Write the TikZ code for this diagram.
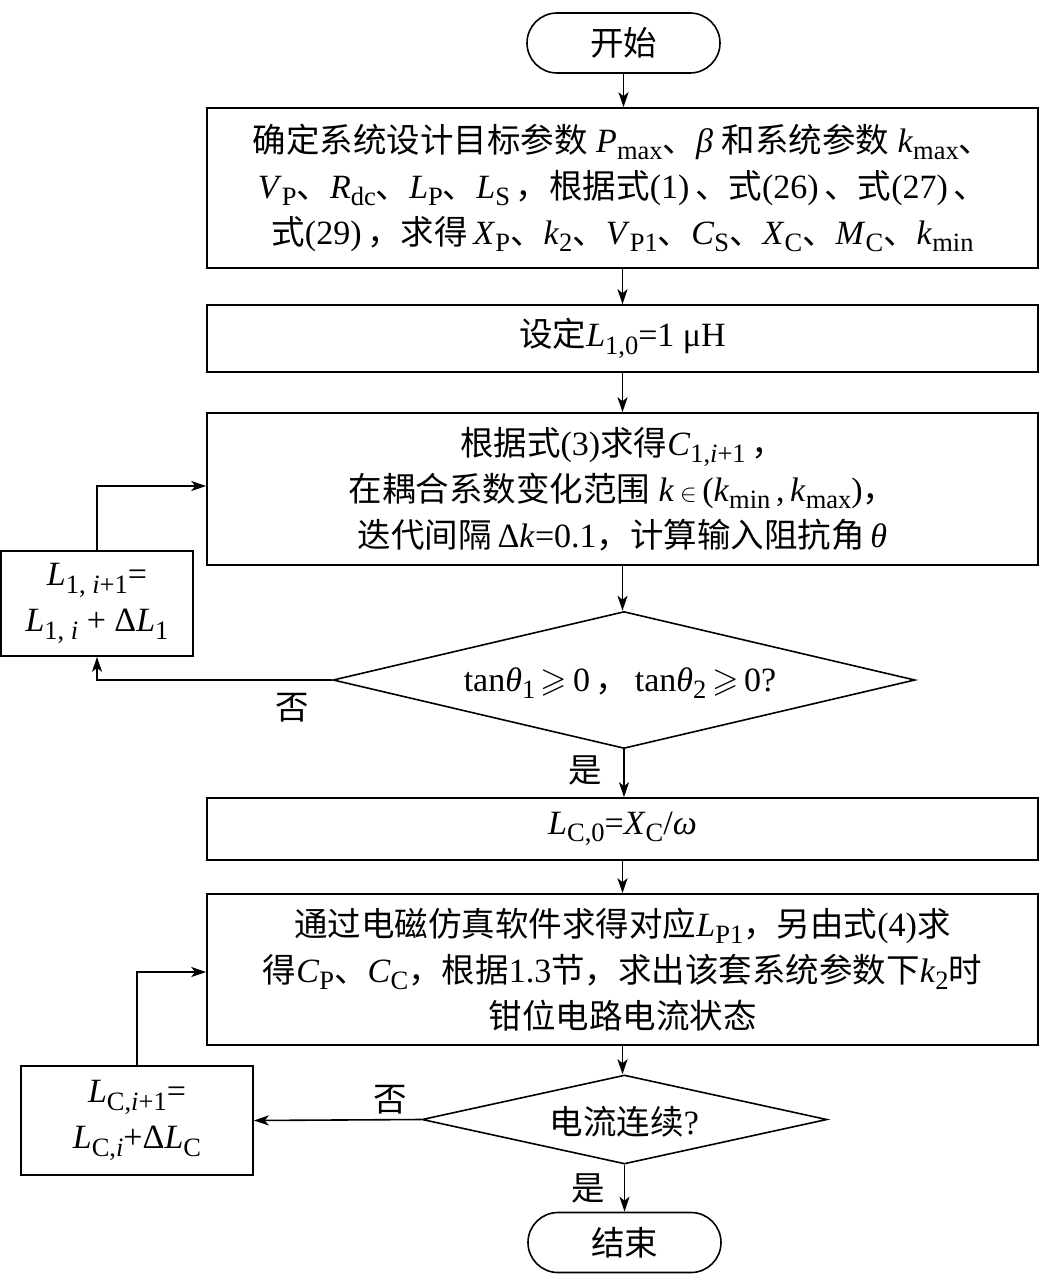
\documentclass[tikz,border=0pt]{standalone}
\usepackage{amssymb}
\usepackage{fontspec}
\setmainfont{Liberation Serif}
\newfontfamily\cjk{Noto Sans CJK SC}
\usetikzlibrary{arrows.meta,shapes.geometric}
\newcommand\zh[1]{{\cjk\fontsize{33.5}{46}\selectfont #1}}
\newcommand\sub[1]{\raisebox{-0.22em}{\fontsize{26.5}{26.5}\selectfont #1}}
\newcommand\vv[2]{\textit{#1}\sub{#2}}
\begin{document}
\begin{tikzpicture}[x=1pt,y=-1pt,
  every node/.style={font=\fontsize{34}{46}\selectfont, inner sep=0pt},
  proc/.style={draw, line width=1.6pt, minimum width=831pt, align=center},
  side/.style={draw, line width=1.6pt, align=center},
  term/.style={draw, line width=1.6pt, rounded corners=30pt, minimum width=193pt, minimum height=60pt},
  dec/.style={draw, line width=1.6pt, diamond, aspect=4.2, inner sep=0pt},
  arr/.style={line width=1.6pt, -{Stealth[length=15pt,width=10pt,inset=4pt]}},
  lbl/.style={font=\fontsize{31}{35}\selectfont}]
\useasboundingbox (0,0) rectangle (1041,1276);
\node[term] (start) at (623.5,43) {\zh{开始}};
\node[proc, minimum height=160pt] (b1) at (622.5,188) {%
\zh{确定系统设计目标参数} \vv{P}{max}\zh{、}\textit{β} \zh{和系统参数} \vv{k}{max}\zh{、}\\
\vv{V}{P}\zh{、}\vv{R}{dc}\zh{、}\vv{L}{P}\zh{、}\vv{L}{S}\,\zh{，根据式}(1)\,\zh{、式}(26)\,\zh{、式}(27)\,\zh{、}\\
\zh{式}(29)\,\zh{，求得}\,\vv{X}{P}\zh{、}\vv{k}{2}\zh{、}\vv{V}{P1}\zh{、}\vv{C}{S}\zh{、}\vv{X}{C}\zh{、}\vv{M}{C}\zh{、}\vv{k}{min}};
\node[proc, minimum height=67pt] (b2) at (622.5,338.5) {\zh{设定}\vv{L}{1,0}=1 μH};
\node[proc, minimum height=152pt] (b3) at (622.5,489) {%
\zh{根据式}(3)\zh{求得}\vv{C}{1,\textit{i}+1}\,\zh{，}\\
\zh{在耦合系数变化范围} \textit{k}\,$\in$\,(\vv{k}{min}\,,\,\vv{k}{max})\zh{，}\\
\zh{迭代间隔}\,Δ\textit{k}=0.1\zh{，计算输入阻抗角}\,\textit{θ}};
\node[dec, minimum width=582pt, minimum height=137pt] (d1) at (624,680) {};
\node at (620,683) {tan\textit{θ}\sub{1}\,$\geqslant$\,0\,\zh{，}\,tan\textit{θ}\sub{2}\,$\geqslant$\,0?};
\node[side, minimum width=192pt, minimum height=105pt] (s1) at (97,603.5) {%
\vv{L}{1, \textit{i}+1}=\\ \vv{L}{1, \textit{i}} + Δ\vv{L}{1}};
\node[proc, minimum height=62pt] (b4) at (622.5,829) {\vv{L}{C,0}=\vv{X}{C}/\textit{ω}};
\node[proc, minimum height=151pt] (b5) at (622.5,969.5) {%
\zh{通过电磁仿真软件求得对应}\vv{L}{P1}\zh{，另由式}(4)\zh{求}\\
\zh{得}\vv{C}{P}\zh{、}\vv{C}{C}\zh{，根据}1.3\zh{节，求出该套系统参数下}\vv{k}{2}\zh{时}\\
\zh{钳位电路电流状态}};
\node[dec, minimum width=405pt, minimum height=89pt] (d2) at (624.5,1119.5) {};
\node at (624.5,1122) {\zh{电流连续}?};
\node[side, minimum width=232pt, minimum height=109pt] (s2) at (137,1120.5) {%
\vv{L}{C,\textit{i}+1}=\\ \vv{L}{C,\textit{i}}+Δ\vv{L}{C}};
\node[term] (end) at (624.5,1242.5) {\zh{结束}};
\coordinate (c1) at (97,486);
\coordinate (c2) at (137,972);
\draw[arr] (start) -- (start |- b1.north);
\draw[arr] (b1.south) -- (b2.north);
\draw[arr] (b2.south) -- (b3.north);
\draw[arr] (b3.south) -- (b3.south |- d1.north);
\draw[arr] (d1.south) -- (d1.south |- b4.north);
\draw[arr] (b4.south) -- (b5.north);
\draw[arr] (b5.south) -- (b5.south |- d2.north);
\draw[arr] (d2.south) -- (end.north);
\draw[arr] (d1.west) -| (s1.south);
\draw[arr] (s1.north) |- (c1) -- (b3.west |- c1);
\draw[arr] (d2.west) -- (s2.east);
\draw[arr] (s2.north) |- (c2) -- (b5.west |- c2);
\node[lbl] at (292,708) {\zh{否}};
\node[lbl] at (585,770) {\zh{是}};
\node[lbl] at (390,1100) {\zh{否}};
\node[lbl] at (588,1188) {\zh{是}};
\end{tikzpicture}
\end{document}
